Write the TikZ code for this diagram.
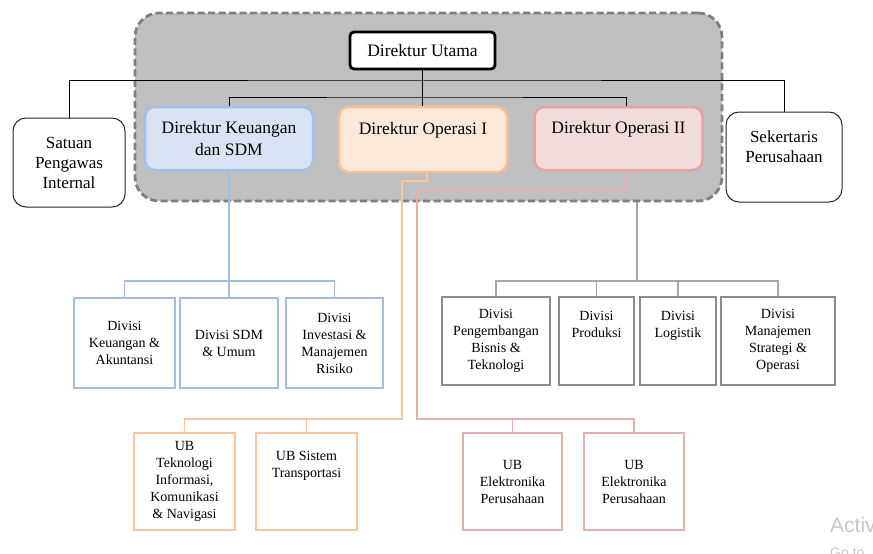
\documentclass[tikz,border=0pt]{standalone}
\usepackage{fontspec}
\setmainfont{Liberation Serif}
\newfontfamily\wmfont{Liberation Sans}
\usetikzlibrary{positioning}
\definecolor{grpgray}{HTML}{BFBFBF}
\definecolor{grpedge}{HTML}{7F7F7F}
\definecolor{keufill}{HTML}{DAE3F3}
\definecolor{keuedge}{HTML}{A4C0E6}
\definecolor{op1fill}{HTML}{FDE9D9}
\definecolor{op1edge}{HTML}{F9C193}
\definecolor{op2fill}{HTML}{F2DCDB}
\definecolor{op2edge}{HTML}{E2A3A3}
\definecolor{keuline}{HTML}{A2BCE2}
\definecolor{op1line}{HTML}{F8C6A0}
\definecolor{op2line}{HTML}{E3AFAF}
\definecolor{divedge}{HTML}{8C8C8C}
\definecolor{divline}{HTML}{A6A6A6}

\begin{document}
\begin{tikzpicture}[x=1pt, y=-1pt,
    grpbox/.style={draw=grpedge, fill=grpgray, line width=2.8pt, dash pattern=on 7pt off 3.5pt, rounded corners=24pt},
    direksi/.style={draw, rounded corners=10pt, line width=2.5pt, align=center, minimum width=168pt, minimum height=63pt, font=\fontsize{17.5}{22}\selectfont},
    staf/.style={draw=black!85, rounded corners=13pt, line width=1pt, fill=white, align=center, font=\fontsize{17}{20}\selectfont},
    unit/.style={draw, line width=1.3pt, fill=white, align=center, minimum height=90pt, font=\fontsize{14}{17}\selectfont},
    bus/.style={line width=1pt},
    wm/.style={anchor=base west, inner sep=0pt, text=black!22}]
    \useasboundingbox (0,0) rectangle (873,554);
    % group of directors
    \node[grpbox, minimum width=587pt, minimum height=188pt] (grp) at (428.5,107) {};
    \node[direksi, draw=black, line width=2.8pt, fill=white, rounded corners=4pt, minimum width=145pt, minimum height=37pt] (dirut) at (422.5,50.5) {Direktur Utama};
    \node[direksi, draw=keuedge, fill=keufill] (dku) at (229,138.5) {Direktur Keuangan\\dan SDM};
    \node[direksi, draw=op1edge, fill=op1fill, minimum height=65pt] (dop1) at (423,139.5) {Direktur Operasi I\\\mbox{}};
    \node[direksi, draw=op2edge, fill=op2fill] (dop2) at (618.5,138.5) {Direktur Operasi II\\\mbox{}};
    \node[staf, minimum width=112pt, minimum height=89pt] (spi) at (69,162.5) {Satuan\\Pengawas\\Internal};
    \node[staf, minimum width=116pt, minimum height=90pt] (sekper) at (784,157) {Sekertaris\\Perusahaan\\\mbox{}};
    % divisions
    \node[unit, draw=keuline, minimum width=101pt] (dvkeu) at (124.5,343) {Divisi\\Keuangan \&\\Akuntansi};
    \node[unit, draw=keuline, minimum width=98pt] (dvsdm) at (229,343) {Divisi SDM\\\& Umum};
    \node[unit, draw=keuline, minimum width=97pt] (dvinv) at (334.5,343) {Divisi\\Investasi \&\\Manajemen\\Risiko};
    \node[unit, draw=divedge, minimum width=108pt, minimum height=88pt] (dvpbt) at (496,341) {Divisi\\Pengembangan\\Bisnis \&\\Teknologi};
    \node[unit, draw=divedge, minimum width=75pt, minimum height=88pt] (dvprod) at (596.5,341) {Divisi\\Produksi\\\mbox{}\\\mbox{}};
    \node[unit, draw=divedge, minimum width=76pt, minimum height=88pt] (dvlog) at (678,341) {Divisi\\Logistik\\\mbox{}\\\mbox{}};
    \node[unit, draw=divedge, minimum width=114pt, minimum height=88pt] (dvmso) at (778,341) {Divisi\\Manajemen\\Strategi \&\\Operasi};
    % business units
    \node[unit, draw=op1line, minimum width=101pt, minimum height=97pt] (ubtik) at (184.5,481.5) {UB\\Teknologi\\Informasi,\\Komunikasi\\\& Navigasi};
    \node[unit, draw=op1line, minimum width=101pt, minimum height=97pt] (ubst) at (306.5,481.5) {UB Sistem\\Transportasi\\\mbox{}\\\mbox{}};
    \node[unit, draw=op2line, minimum width=99pt, minimum height=97pt] (ubep1) at (512.5,481.5) {UB\\Elektronika\\Perusahaan};
    \node[unit, draw=op2line, minimum width=100pt, minimum height=97pt] (ubep2) at (634,481.5) {UB\\Elektronika\\Perusahaan};
    % connectors
    \coordinate (busA) at (422,80);
    \coordinate (busB) at (422,97);
    \draw[bus] (spi.north) |- (busA) -| (sekper.north);
    \draw[bus] (dirut.south) -- (dirut.south |- dop1.north);
    \draw[bus] (dku.north) |- (busB) -| ([xshift=8pt]dop2.north);
    \coordinate (busK) at (230,281);
    \draw[bus, line width=1.4pt, keuline] (dku.south) -- (dvsdm.north);
    \draw[bus, line width=1.4pt, keuline] (dvkeu.north) |- (busK) -| (dvinv.north);
    \coordinate (op1a) at (402,181);
    \coordinate (busO) at (402,419);
    \draw[bus, line width=1.4pt, op1line] ([xshift=4pt]dop1.south) |- (op1a) -- (busO) -| (ubtik.north);
    \draw[bus, line width=1.4pt, op1line] (ubst.north) -- (ubst.north |- busO);
    \coordinate (op2a) at (417,190);
    \coordinate (busE) at (417,419);
    \draw[bus, line width=1.4pt, op2line] ([xshift=8pt]dop2.south) |- (op2a) -- (busE) -| (ubep2.north);
    \draw[bus, line width=1.4pt, op2line] (ubep1.north) -- (ubep1.north |- busE);
    \coordinate (gtap) at (637,202);
    \coordinate (busG) at (637,281);
    \draw[bus, line width=1.3pt, divline] (gtap) -- (busG);
    \draw[bus, line width=1.3pt, divline] (dvpbt.north) |- (busG) -| (dvmso.north);
    \draw[bus, line width=1.3pt, divline] (dvprod.north) -- (dvprod.north |- busG);
    \draw[bus, line width=1.3pt, divline] (dvlog.north) -- (dvlog.north |- busG);
    % watermark
    \node[wm, font=\wmfont\fontsize{21}{21}\selectfont] (wm1) at (830,532) {Activ};
    \node[wm, font=\wmfont\fontsize{14}{14}\selectfont] (wm2) at (830,557) {Go to};
\end{tikzpicture}
\end{document}
